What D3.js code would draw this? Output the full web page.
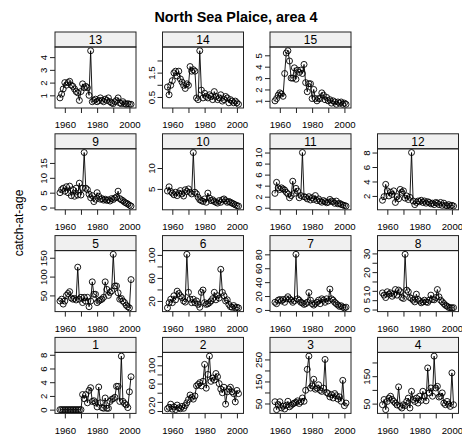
<!DOCTYPE html>
<html>
<head>
<meta charset="utf-8">
<script src="https://d3js.org/d3.v7.min.js"></script>
<style>
  body { margin: 0; background: #fff; }
  svg { display: block; font-family: "Liberation Sans", Arial, Helvetica, sans-serif; }
</style>
</head>
<body>
<svg id="chart" width="462" height="435"></svg>
<script>
// ============ data ============
const firstYear = 1957;
const lastYear = 2001;
const years = d3.range(firstYear, lastYear + 1);
const ages = [1, 2, 3, 4, 5, 6, 7, 8, 9, 10, 11, 12, 13, 14, 15];

const catchAge1 = [0, 0, 0, 0, 0, 0, 0, 0, 0, 0, 0, 0, 0, 0, 2.2, 1.6, 2.2, 1.0, 2.8, 3.2, 1.2, 1.3, 1.0, 0.4, 3.3, 1.0, 0.3, 0.2, 1.7, 0.2, 0.2, 1.2, 1.5, 1.6, 1.8, 3.4, 3.4, 1.2, 7.8, 1.2, 0.9, 0.7, 0.3, 2.6, 4.8];
const catchAge2 = [5, 8, 15, 4, 9, 3, 13, 7, 5, 10, 6, 12, 18, 25, 35, 30, 26, 33, 55, 58, 62, 55, 65, 102, 50, 80, 120, 65, 72, 68, 82, 75, 60, 48, 40, 52, 15, 42, 48, 52, 42, 38, 20, 45, 38];
const catchAge3 = [58, 22, 45, 58, 30, 38, 25, 42, 60, 35, 42, 48, 52, 55, 62, 50, 58, 75, 60, 110, 205, 265, 120, 130, 160, 115, 120, 135, 110, 105, 120, 250, 100, 95, 80, 90, 75, 95, 85, 70, 80, 60, 155, 40, 52];
const catchAge4 = [46, 65, 28, 58, 70, 77, 65, 58, 52, 45, 111, 40, 34, 46, 43, 58, 70, 34, 95, 65, 58, 70, 52, 77, 62, 95, 77, 60, 180, 89, 107, 77, 223, 107, 113, 74, 77, 89, 52, 46, 58, 48, 40, 162, 46];
const catchAge5 = [35, 40, 27, 35, 50, 55, 60, 43, 40, 42, 38, 125, 40, 45, 31, 45, 35, 45, 20, 35, 86, 53, 53, 31, 35, 38, 40, 45, 86, 66, 50, 58, 62, 159, 75, 75, 57, 40, 42, 35, 31, 24, 20, 17, 92];
const catchAge6 = [8, 17, 23, 17, 29, 22, 37, 33, 29, 26, 20, 18, 101, 35, 23, 17, 23, 17, 20, 14, 9, 35, 39, 17, 14, 15, 17, 20, 24, 35, 22, 29, 25, 75, 35, 29, 20, 22, 14, 10, 9, 12, 8, 9, 8];
const catchAge7 = [11, 9, 14, 15, 13, 15, 11, 16, 19, 16, 14, 11, 13, 80, 16, 14, 11, 10, 8, 9, 11, 25, 14, 9, 7, 9, 11, 14, 9, 16, 14, 11, 16, 13, 30, 16, 14, 11, 9, 7, 5, 6, 4, 3, 4];
const catchAge8 = [8.9, 7.7, 6.4, 9.5, 8.2, 8.9, 7.1, 8.2, 10.7, 7.7, 10.4, 9.5, 6.4, 5.9, 29.5, 10.4, 9.5, 6.4, 5.9, 5.0, 4.1, 8.2, 5.4, 4.6, 3.6, 4.1, 5.0, 4.1, 3.8, 5.0, 7.7, 5.4, 5.2, 6.4, 10.7, 6.8, 5.0, 4.1, 3.2, 2.3, 1.8, 1.1, 1.0, 0.9, 1.0];
const catchAge9 = [5.0, 6.0, 6.5, 5.5, 7.0, 5.0, 7.2, 4.0, 6.0, 3.8, 6.5, 4.2, 8.2, 4.2, 6.5, 18.5, 6.5, 6.0, 4.5, 3.3, 4.0, 2.0, 2.8, 5.0, 3.8, 2.8, 3.0, 2.5, 2.8, 2.4, 2.6, 2.2, 3.0, 2.7, 3.2, 3.5, 5.5, 3.0, 2.6, 2.3, 1.8, 1.5, 1.2, 0.8, 0.5];
const catchAge10 = [4.5, 5.5, 4.4, 4.0, 3.6, 4.2, 3.4, 4.0, 4.6, 3.8, 3.3, 4.8, 4.4, 5.0, 4.2, 3.8, 13.7, 4.2, 3.8, 3.0, 2.4, 2.2, 2.0, 2.6, 1.8, 4.0, 2.8, 2.2, 2.4, 2.0, 1.8, 1.6, 2.2, 1.8, 2.4, 2.6, 2.2, 1.8, 2.0, 1.8, 1.6, 1.4, 1.2, 1.0, 0.9];
const catchAge11 = [2.6, 4.6, 3.6, 3.3, 3.6, 3.4, 3.2, 2.8, 2.5, 1.8, 2.2, 4.8, 2.6, 3.5, 3.0, 1.8, 2.2, 10.0, 2.0, 1.9, 1.6, 2.0, 1.4, 1.8, 1.5, 2.2, 1.3, 1.6, 1.2, 1.0, 1.3, 1.1, 0.9, 1.0, 1.5, 1.2, 1.1, 0.8, 1.2, 0.7, 0.8, 0.6, 0.5, 0.4, 0.3];
const catchAge12 = [1.4, 1.9, 3.6, 2.7, 2.0, 2.5, 2.2, 2.7, 1.1, 1.9, 1.6, 2.9, 2.5, 2.7, 1.7, 2.0, 1.5, 1.8, 8.0, 1.3, 0.8, 1.1, 1.3, 1.2, 1.4, 1.1, 1.3, 1.0, 1.2, 1.1, 0.9, 1.0, 0.8, 1.1, 1.0, 0.8, 1.1, 0.7, 1.0, 0.7, 0.65, 0.8, 0.6, 0.7, 0.6];
const catchAge13 = [0.8, 1.1, 1.5, 2.0, 1.8, 2.0, 2.1, 1.8, 1.7, 1.5, 1.3, 1.2, 0.6, 1.3, 1.9, 1.6, 1.7, 1.6, 1.0, 4.5, 0.5, 0.6, 0.7, 0.5, 0.6, 0.8, 0.6, 0.5, 0.7, 0.6, 0.8, 0.5, 0.4, 0.35, 0.5, 0.6, 0.8, 0.4, 0.35, 0.5, 0.35, 0.3, 0.35, 0.3, 0.3];
const catchAge14 = [0.91, 0.59, 0.98, 1.17, 1.49, 1.56, 1.36, 1.56, 1.24, 1.11, 0.98, 0.85, 1.04, 0.98, 1.75, 1.56, 1.62, 1.56, 0.46, 0.39, 2.4, 0.78, 0.46, 0.65, 0.52, 0.46, 0.59, 0.52, 0.39, 0.72, 0.52, 0.39, 0.46, 0.59, 0.33, 0.39, 0.52, 0.46, 0.26, 0.39, 0.33, 0.26, 0.33, 0.26, 0.2];
const catchAge15 = [1.0, 1.2, 1.5, 1.7, 1.6, 1.4, 3.4, 5.2, 5.4, 4.5, 3.0, 3.0, 3.9, 2.9, 3.7, 3.5, 3.7, 3.4, 4.2, 2.6, 1.8, 2.5, 2.5, 1.2, 2.0, 1.2, 1.0, 1.2, 1.2, 1.7, 1.5, 1.1, 1.3, 1.0, 1.1, 0.8, 1.0, 0.9, 0.7, 0.9, 0.8, 0.9, 0.7, 0.8, 0.7];

const catchAtAge = [catchAge1, catchAge2, catchAge3, catchAge4, catchAge5, catchAge6, catchAge7,
  catchAge8, catchAge9, catchAge10, catchAge11, catchAge12, catchAge13, catchAge14, catchAge15];

// y tick marks per panel, and the labels that survive overlap in the original
const yTickValues = [
  [0, 2, 4, 6, 8], [0, 20, 40, 60, 80, 100, 120], [50, 100, 150, 200, 250], [50, 100, 150, 200],
  [50, 100, 150], [20, 40, 60, 80, 100], [0, 20, 40, 60, 80], [0, 5, 10, 15, 20, 25, 30],
  [0, 5, 10, 15], [0, 5, 10], [0, 2, 4, 6, 8, 10], [2, 4, 6, 8],
  [1, 2, 3, 4], [0.5, 1.0, 1.5, 2.0], [1, 2, 3, 4, 5]
];
const yTickLabels = [
  [0, 2, 4, 6, 8], [0, 20, 60, 100], [50, 150, 250], [50, 150],
  [50, 100, 150], [20, 60, 100], [0, 20, 40, 60, 80], [0, 5, 10, 20, 30],
  [0, 5, 10, 15], [0, 5, 10], [0, 2, 4, 6, 8, 10], [2, 4, 6, 8],
  [1, 2, 3, 4], [0.5, 1.5], [1, 2, 3, 4, 5]
];
const xTickValues = [1960, 1970, 1980, 1990, 2000];
const xTickLabels = [1960, 1980, 2000];

const title = 'North Sea Plaice, area 4';
const yLabel = 'catch-at-age';

// ============ layout ============
const colLeft0 = 55, colStep = 107.5, panelW = 81;
const rowTop0 = 32, rowStep = 101.8, stripH = 15, panelH = 61;
const nCols = 4, nRows = 4;
const padFrac = 0.07;   // lattice axis padding
const tickLen = 5;

const svg = d3.select('#chart');

function padded([lo, hi]) {
  const d = (hi - lo) * padFrac;
  return [lo - d, hi + d];
}

const xDomain = padded([firstYear, lastYear]);

// title
svg.append('text')
  .attr('x', 236).attr('y', 22)
  .attr('text-anchor', 'middle')
  .attr('font-size', 14.4).attr('font-weight', 'bold')
  .text(title);

// y label
svg.append('text')
  .attr('transform', 'translate(23,223) rotate(-90)')
  .attr('text-anchor', 'middle')
  .attr('font-size', 12)
  .text(yLabel);

// ============ panels ============
ages.forEach((age, i) => {
  const values = catchAtAge[i];
  const col = i % nCols;
  const row = nRows - 1 - Math.floor(i / nCols);
  const left = colLeft0 + col * colStep;
  const stripTop = rowTop0 + row * rowStep;
  const top = stripTop + stripH;
  const bottom = top + panelH;

  const x = d3.scaleLinear().domain(xDomain).range([left, left + panelW]);
  const yDomain = padded(d3.extent(values));
  const y = d3.scaleLinear().domain(yDomain).range([bottom, top]);

  const g = svg.append('g');

  // strip
  g.append('rect')
    .attr('x', left).attr('y', stripTop)
    .attr('width', panelW).attr('height', stripH)
    .attr('fill', '#f0f0f0').attr('stroke', '#222').attr('stroke-width', 1);
  g.append('text')
    .attr('x', left + panelW / 2).attr('y', stripTop + 12)
    .attr('text-anchor', 'middle').attr('font-size', 12)
    .text(age);

  // y axis
  const yTicks = yTickValues[i].filter(v => v >= yDomain[0] && v <= yDomain[1]);
  const yAxis = g.append('g')
    .attr('transform', `translate(${left},0)`)
    .call(d3.axisLeft(y)
      .tickValues(yTicks)
      .tickSize(tickLen)
      .tickSizeOuter(0)
      .tickFormat(v => yTickLabels[i].includes(v) ? String(v) : ''));
  yAxis.select('.domain').remove();
  yAxis.selectAll('line').attr('stroke', '#222');
  yAxis.selectAll('text')
    .attr('x', null).attr('dy', null)
    .attr('transform', 'translate(-8,0) rotate(-90)')
    .attr('text-anchor', 'middle')
    .attr('font-size', 9.6)
    .attr('font-family', '"Liberation Sans", Arial, sans-serif')
    .attr('fill', '#000');

  // x axis
  const xAxis = g.append('g')
    .attr('transform', `translate(0,${bottom})`)
    .call(d3.axisBottom(x)
      .tickValues(xTickValues)
      .tickSize(tickLen)
      .tickSizeOuter(0)
      .tickFormat(v => xTickLabels.includes(v) ? String(v) : ''));
  xAxis.select('.domain').remove();
  xAxis.selectAll('line').attr('stroke', '#222');
  xAxis.selectAll('text')
    .attr('y', 17).attr('dy', '0.35em')
    .attr('font-size', 9.6)
    .attr('font-family', '"Liberation Sans", Arial, sans-serif')
    .attr('fill', '#000');

  // line + open circles
  const pts = years.map((yr, k) => [yr, values[k]]);
  g.append('path')
    .datum(pts)
    .attr('fill', 'none')
    .attr('stroke', '#000')
    .attr('stroke-width', 0.9)
    .attr('d', d3.line().x(d => x(d[0])).y(d => y(d[1])));

  g.append('g')
    .selectAll('circle')
    .data(pts)
    .join('circle')
    .attr('cx', d => x(d[0]))
    .attr('cy', d => y(d[1]))
    .attr('r', 3)
    .attr('fill', 'none')
    .attr('stroke', '#000')
    .attr('stroke-width', 0.9);

  // panel border
  g.append('rect')
    .attr('x', left).attr('y', top)
    .attr('width', panelW).attr('height', panelH)
    .attr('fill', 'none').attr('stroke', '#222').attr('stroke-width', 1);
});
</script>
</body>
</html>
